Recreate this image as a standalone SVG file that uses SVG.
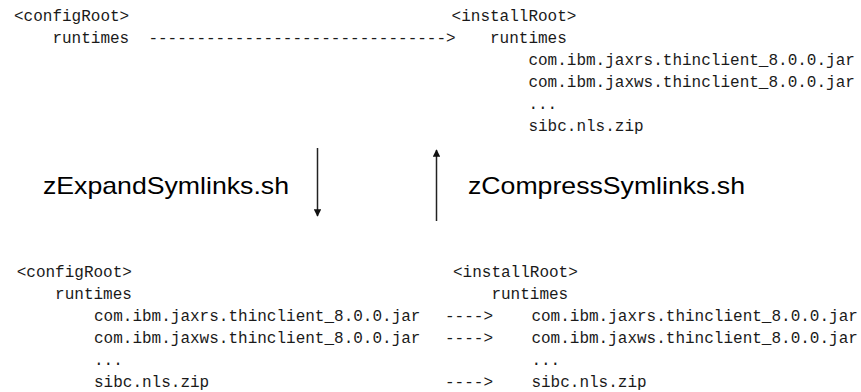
<svg xmlns="http://www.w3.org/2000/svg" width="861" height="392" viewBox="0 0 861 392">
<defs>
<style>
.mono{font-family:"Liberation Mono","Courier New",monospace;font-size:16px;fill:#1a1a1a;}
.lbl{font-family:"Liberation Sans",Arial,sans-serif;font-size:24px;fill:#000;}
.conn{stroke:#222;stroke-width:1.5;fill:none;}
</style>
<marker id="ah" viewBox="0 0 10 10" refX="9" refY="5" markerWidth="5" markerHeight="5" orient="auto" markerUnits="strokeWidth">
<path d="M0,0 L10,5 L0,10 z" fill="#111"/>
</marker>
</defs>
<rect width="861" height="392" fill="#fff"/>
<g id="top-config">
<text class="mono" x="14" y="21">&lt;configRoot&gt;</text>
<text class="mono" x="52.4" y="43">runtimes</text>
<text class="mono" x="148.4" y="43">-------------------------------&gt;</text>
</g>
<g id="top-install">
<text class="mono" x="451.6" y="21">&lt;installRoot&gt;</text>
<text class="mono" x="490" y="43">runtimes</text>
<text class="mono" x="528.4" y="65">com.ibm.jaxrs.thinclient_8.0.0.jar</text>
<text class="mono" x="528.4" y="87">com.ibm.jaxws.thinclient_8.0.0.jar</text>
<text class="mono" x="528.4" y="109">...</text>
<text class="mono" x="528.4" y="131">sibc.nls.zip</text>
</g>
<g id="expand-label">
<text class="lbl" x="43" y="194" textLength="246" lengthAdjust="spacingAndGlyphs">zExpandSymlinks.sh</text>
</g>
<g id="compress-label">
<text class="lbl" x="468" y="194" textLength="277" lengthAdjust="spacingAndGlyphs">zCompressSymlinks.sh</text>
</g>
<g id="connectors">
<line class="conn" x1="317.5" y1="148" x2="317.5" y2="216" marker-end="url(#ah)"/>
<line class="conn" x1="436.5" y1="221" x2="436.5" y2="150" marker-end="url(#ah)"/>
</g>
<g id="bottom-config">
<text class="mono" x="16.7" y="277">&lt;configRoot&gt;</text>
<text class="mono" x="55.1" y="299">runtimes</text>
<text class="mono" x="94" y="321">com.ibm.jaxrs.thinclient_8.0.0.jar</text>
<text class="mono" x="94" y="343">com.ibm.jaxws.thinclient_8.0.0.jar</text>
<text class="mono" x="94" y="365">...</text>
<text class="mono" x="94" y="387">sibc.nls.zip</text>
</g>
<g id="bottom-install">
<text class="mono" x="453" y="277">&lt;installRoot&gt;</text>
<text class="mono" x="491.4" y="299">runtimes</text>
<text class="mono" x="445" y="321">----&gt;</text>
<text class="mono" x="531.4" y="321">com.ibm.jaxrs.thinclient_8.0.0.jar</text>
<text class="mono" x="445" y="343">----&gt;</text>
<text class="mono" x="531.4" y="343">com.ibm.jaxws.thinclient_8.0.0.jar</text>
<text class="mono" x="531.4" y="365">...</text>
<text class="mono" x="445" y="387">----&gt;</text>
<text class="mono" x="531.4" y="387">sibc.nls.zip</text>
</g>
</svg>
